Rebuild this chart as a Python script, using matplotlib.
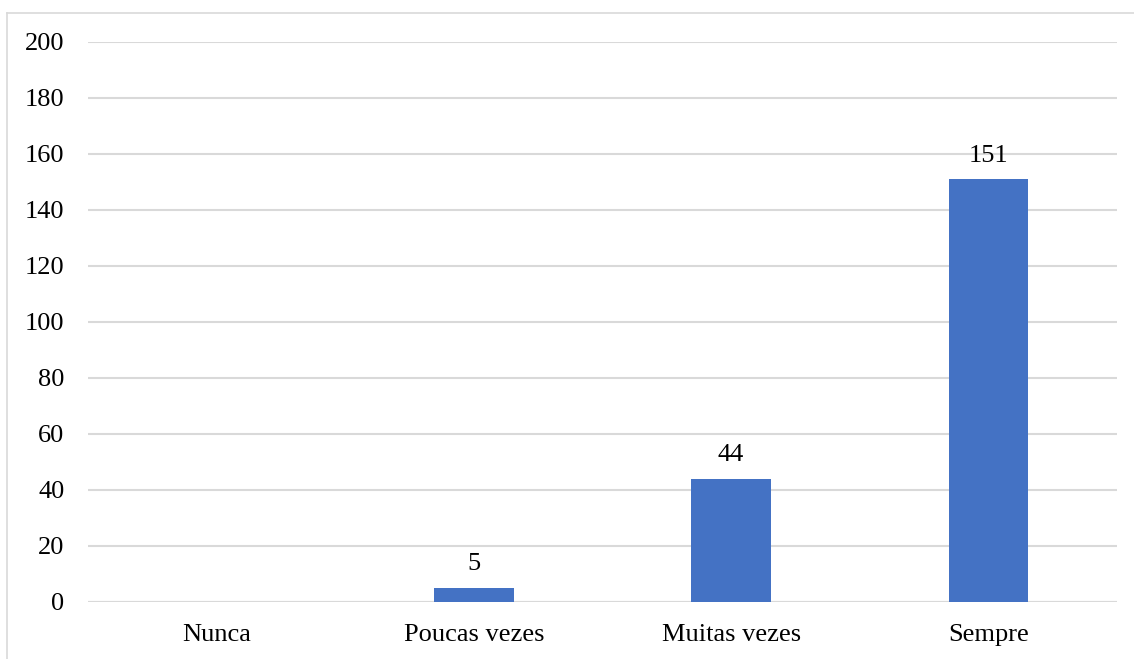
import matplotlib
matplotlib.use("Agg")
import matplotlib.pyplot as plt
from matplotlib.lines import Line2D

categories = ["Nunca", "Poucas vezes", "Muitas vezes", "Sempre"]
values = [0, 5, 44, 151]
yticks = [0, 20, 40, 60, 80, 100, 120, 140, 160, 180, 200]

plt.rcParams['font.family'] = ['Liberation Serif', 'DejaVu Serif']

W, H = 1134, 659
FS = 19
fig = plt.figure(figsize=(W / 100, H / 100), dpi=100)
ax = fig.add_axes([88 / W, 1 - 602 / H, (1117 - 88) / W, (602 - 42) / H])

x = list(range(len(categories)))
bars = ax.bar(x, values, width=0.31, color="#4472C4", zorder=3)
for xi, v in zip(x, values):
    if v > 0:
        ax.annotate(str(v), (xi, v), xytext=(0, 9), textcoords="offset points",
                    ha="center", va="bottom", fontsize=FS, color="#000000")

ax.set_xlim(-0.5, len(categories) - 0.5)
ax.set_ylim(0, 200)
ax.set_yticks(yticks)
ax.set_xticks(x)
ax.set_xticklabels(categories, fontsize=FS)
ax.tick_params(axis='y', labelsize=FS, length=0, pad=17)
ax.tick_params(axis='x', length=0, pad=16)
ax.grid(axis='y', color="#D9D9D9", linewidth=1.5, zorder=0)
for s in ax.spines.values():
    s.set_visible(False)
ax.axhline(0, color="#D9D9D9", linewidth=1.5, zorder=2)

# figure border (top and left visible)
fig.add_artist(Line2D([7 / W, 1], [1 - 13 / H, 1 - 13 / H], color="#D9D9D9", linewidth=1.2,
                      transform=fig.transFigure))
fig.add_artist(Line2D([7 / W, 7 / W], [0, 1 - 13 / H], color="#D9D9D9", linewidth=1.2,
                      transform=fig.transFigure))

fig.savefig("out.png", dpi=100)
